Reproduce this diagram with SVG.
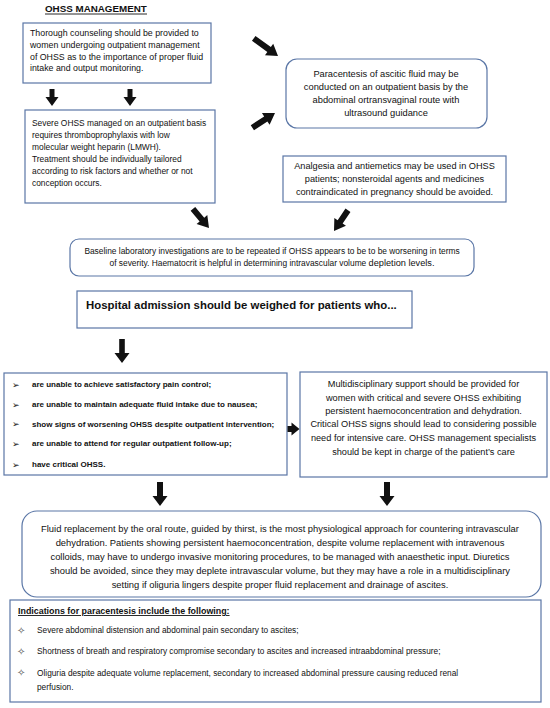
<svg xmlns="http://www.w3.org/2000/svg" width="550" height="708" viewBox="0 0 550 708">
<style>
text{font-family:"Liberation Sans",Arial,sans-serif;fill:#111}
.box{fill:#fff;stroke:#5a76a6;stroke-width:1.2}
.c{text-anchor:middle}
.b{font-weight:bold}
.bul{font-family:"DejaVu Sans",sans-serif;font-size:9px}
.star{font-family:"DejaVu Sans",sans-serif;font-size:10px;fill:#555}
.arr{fill:#111}
</style>
<rect width="550" height="708" fill="#fff"/>
<g id="title">
<text x="45" y="12" class="b" font-size="9.8">OHSS MANAGEMENT</text>
<line x1="45" y1="14" x2="147" y2="14" stroke="#111" stroke-width="0.9"/>
</g>
<g id="counseling">
<rect class="box" x="23" y="23" width="188" height="60"/>
<text font-size="8.8"><tspan x="30" y="36.4">Thorough counseling should be provided to</tspan><tspan x="30" y="48">women undergoing outpatient management</tspan><tspan x="30" y="59.8">of OHSS as to the importance of proper fluid</tspan><tspan x="30" y="71.4">intake and output monitoring.</tspan></text>
</g>
<g id="thrombo">
<rect class="box" x="25" y="110" width="190" height="93"/>
<text font-size="8.4"><tspan x="32" y="125.7">Severe OHSS managed on an outpatient basis</tspan><tspan x="32" y="137.8">requires thromboprophylaxis with low</tspan><tspan x="32" y="149.9">molecular weight heparin (LMWH).</tspan><tspan x="32" y="162">Treatment should be individually tailored</tspan><tspan x="32" y="174.1">according to risk factors and whether or not</tspan><tspan x="32" y="186.2">conception occurs.</tspan></text>
</g>
<g id="paracentesis-out">
<rect class="box" x="286" y="59" width="201" height="69" rx="11"/>
<text font-size="9.3" class="c"><tspan x="386" y="76.6">Paracentesis of ascitic fluid may be</tspan><tspan x="386" y="89.7">conducted on an outpatient basis by the</tspan><tspan x="386" y="102.8">abdominal ortransvaginal route with</tspan><tspan x="386" y="115.9">ultrasound guidance</tspan></text>
</g>
<g id="analgesia">
<rect class="box" x="283" y="156" width="223" height="46"/>
<text font-size="9.2" class="c"><tspan x="394.5" y="169.2">Analgesia and antiemetics may be used in OHSS</tspan><tspan x="394.5" y="182">patients; nonsteroidal agents and medicines</tspan><tspan x="394.5" y="194.8">contraindicated in pregnancy should be avoided.</tspan></text>
</g>
<g id="baseline">
<rect class="box" x="70" y="239" width="404" height="37" rx="9"/>
<text font-size="8.4" class="c"><tspan x="272" y="254">Baseline laboratory investigations are to be repeated if OHSS appears to be to be worsening in terms</tspan><tspan x="272" y="266.4">of severity. Haematocrit is helpful in determining intravascular volume <tspan font-size="9.2">depletion levels.</tspan></tspan></text>
</g>
<g id="hospital">
<rect class="box" x="77" y="291" width="335" height="37"/>
<text x="86" y="309" font-size="11.4" class="b">Hospital admission should be weighed for patients who...</text>
</g>
<g id="criteria">
<rect class="box" x="4" y="373" width="283" height="102"/>
<text class="bul" x="12" y="387.5">➢</text>
<text class="bul" x="12" y="407.5">➢</text>
<text class="bul" x="12" y="427">➢</text>
<text class="bul" x="12" y="446.5">➢</text>
<text class="bul" x="12" y="467.5">➢</text>
<text font-size="8" class="b"><tspan x="32" y="387">are unable to achieve satisfactory pain control;</tspan><tspan x="32" y="407">are unable to maintain adequate fluid intake due to nausea;</tspan><tspan x="32" y="426.5">show signs of worsening OHSS despite outpatient intervention;</tspan><tspan x="32" y="446">are unable to attend for regular outpatient follow-up;</tspan><tspan x="32" y="467">have critical OHSS.</tspan></text>
</g>
<g id="multidisciplinary">
<rect class="box" x="300" y="372" width="247" height="105"/>
<text font-size="9.2" class="c"><tspan x="423.5" y="387">Multidisciplinary support should be provided for</tspan><tspan x="423.5" y="400.5">women with critical and severe OHSS exhibiting</tspan><tspan x="423.5" y="414">persistent haemoconcentration and dehydration.</tspan><tspan x="423.5" y="427.3">Critical OHSS signs should lead to considering possible</tspan><tspan x="423.5" y="440.7">need for intensive care. OHSS management specialists</tspan><tspan x="423.5" y="454.5">should be kept in charge of the patient’s care</tspan></text>
</g>
<g id="fluid">
<rect class="box" x="22" y="511" width="519" height="86" rx="15"/>
<text font-size="9.4" class="c"><tspan x="280" y="531.6">Fluid replacement by the oral route, guided by thirst, is the most physiological approach for countering intravascular</tspan><tspan x="280" y="545.6">dehydration. Patients showing persistent haemoconcentration, despite volume replacement with intravenous</tspan><tspan x="280" y="559.6">colloids, may have to undergo invasive monitoring procedures, to be managed with anaesthetic input. Diuretics</tspan><tspan x="280" y="573.6">should be avoided, since they may deplete intravascular volume, but they may have a role in a multidisciplinary</tspan><tspan x="280" y="587.6">setting if oliguria lingers despite proper fluid replacement and drainage of ascites.</tspan></text>
</g>
<g id="indications">
<rect class="box" x="10" y="600" width="531" height="102"/>
<text x="18" y="614" font-size="8.9" class="b" text-decoration="underline">Indications for paracentesis include the following:</text>
<text class="star" x="17" y="634">✧</text>
<text class="star" x="17" y="655">✧</text>
<text class="star" x="17" y="676.2">✧</text>
<text font-size="8.3"><tspan x="37" y="633.3">Severe abdominal distension and abdominal pain secondary to ascites;</tspan><tspan x="37" y="654.4">Shortness of breath and respiratory compromise secondary to ascites and increased intraabdominal pressure;</tspan><tspan x="37" y="675.6">Oliguria despite adequate volume replacement, secondary to increased abdominal pressure causing reduced renal</tspan><tspan x="37" y="690.2">perfusion.</tspan></text>
</g>
<g id="connectors">
<path class="arr" transform="translate(52,106)" d="M-2.5,-17 H2.5 V-9 H6.5 L0,0 L-6.5,-9 H-2.5 Z"/>
<path class="arr" transform="translate(130,106)" d="M-2.5,-17 H2.5 V-9 H6.5 L0,0 L-6.5,-9 H-2.5 Z"/>
<path class="arr" transform="translate(278,56) rotate(-54)" d="M-3,-30 H3 V-11 H7 L0,0 L-7,-11 H-3 Z"/>
<path class="arr" transform="translate(275,113) rotate(-123)" d="M-3,-27 H3 V-11 H7 L0,0 L-7,-11 H-3 Z"/>
<path class="arr" transform="translate(209,228) rotate(-40)" d="M-3,-25 H3 V-11 H7 L0,0 L-7,-11 H-3 Z"/>
<path class="arr" transform="translate(334,231) rotate(34)" d="M-3,-25 H3 V-11 H7 L0,0 L-7,-11 H-3 Z"/>
<path class="arr" transform="translate(122,363)" d="M-2.8,-24 H2.8 V-10 H7.5 L0,0 L-7.5,-10 H-2.8 Z"/>
<path class="arr" transform="translate(299.5,429) rotate(-90)" d="M-3,-12 H3 V-8 H6.5 L0,0 L-6.5,-8 H-3 Z"/>
<path class="arr" transform="translate(160,506)" d="M-3,-24 H3 V-10 H7.5 L0,0 L-7.5,-10 H-3 Z"/>
<path class="arr" transform="translate(387,506)" d="M-3,-24 H3 V-10 H7.5 L0,0 L-7.5,-10 H-3 Z"/>
</g>
</svg>
